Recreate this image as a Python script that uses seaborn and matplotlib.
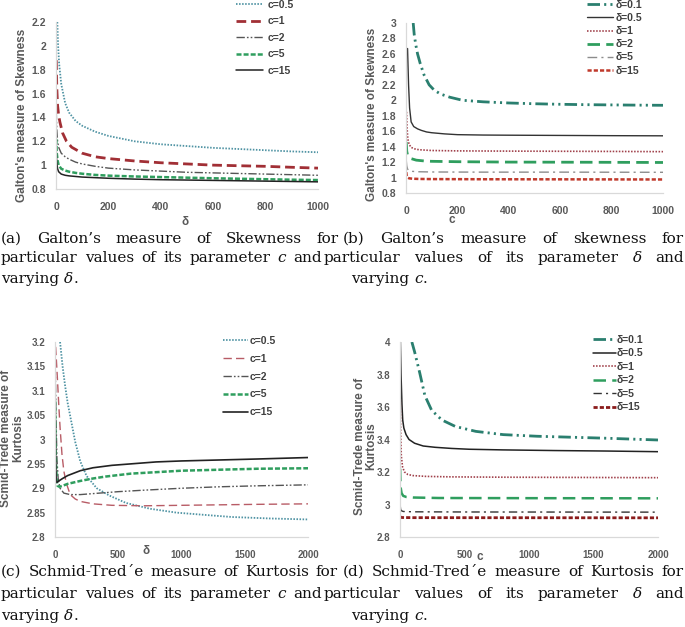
import matplotlib
matplotlib.use("Agg")
import matplotlib.pyplot as plt
import seaborn as sns
from matplotlib.ticker import FixedLocator, FuncFormatter

# ---------------- data ----------------
# (a) Galton's skewness vs delta for fixed c
a_c05_x = [5, 8, 12, 20, 35, 50, 75, 100, 150, 200, 300, 400, 500, 600, 700, 800, 900, 1000]
a_c05_y = [2.20, 2.00, 1.85, 1.68, 1.52, 1.44, 1.37, 1.33, 1.28, 1.245, 1.20, 1.175, 1.16, 1.145, 1.135, 1.125, 1.115, 1.108]
a_c1_x = [1, 3, 6, 10, 15, 25, 40, 60, 100, 150, 200, 300, 400, 500, 600, 700, 800, 900, 1000]
a_c1_y = [1.88, 1.65, 1.50, 1.42, 1.36, 1.27, 1.20, 1.15, 1.10, 1.07, 1.055, 1.035, 1.02, 1.01, 1.00, 0.995, 0.99, 0.982, 0.975]
a_c2_x = [1, 3, 6, 10, 20, 35, 50, 75, 100, 150, 200, 300, 400, 500, 600, 700, 800, 900, 1000]
a_c2_y = [1.45, 1.30, 1.20, 1.15, 1.10, 1.07, 1.05, 1.025, 1.01, 0.99, 0.975, 0.96, 0.95, 0.94, 0.935, 0.93, 0.925, 0.92, 0.915]
a_c5_x = [1, 3, 6, 10, 20, 35, 50, 75, 100, 150, 200, 300, 400, 500, 600, 700, 800, 900, 1000]
a_c5_y = [1.22, 1.10, 1.04, 1.00, 0.97, 0.955, 0.945, 0.935, 0.928, 0.918, 0.912, 0.905, 0.90, 0.895, 0.89, 0.886, 0.882, 0.878, 0.875]
a_c15_x = [1, 3, 6, 10, 20, 35, 50, 75, 100, 150, 200, 300, 400, 500, 600, 700, 800, 900, 1000]
a_c15_y = [1.12, 1.02, 0.97, 0.945, 0.925, 0.915, 0.91, 0.905, 0.90, 0.895, 0.89, 0.883, 0.878, 0.875, 0.872, 0.869, 0.866, 0.863, 0.86]

# (b) Galton's skewness vs c for fixed delta
b_d01_x = [28, 32, 38, 45, 55, 70, 90, 110, 135, 170, 220, 300, 400, 500, 600, 700, 800, 900, 1000]
b_d01_y = [3.0, 2.85, 2.72, 2.60, 2.48, 2.33, 2.20, 2.13, 2.08, 2.04, 2.00, 1.98, 1.965, 1.955, 1.948, 1.943, 1.94, 1.937, 1.935]
b_d05_x = [6, 10, 14, 20, 30, 45, 60, 80, 100, 150, 200, 300, 400, 600, 800, 1000]
b_d05_y = [2.67, 2.20, 1.90, 1.72, 1.66, 1.63, 1.61, 1.59, 1.58, 1.565, 1.555, 1.55, 1.548, 1.545, 1.542, 1.54]
b_d1_x = [2, 4, 7, 12, 20, 35, 50, 100, 200, 400, 600, 800, 1000]
b_d1_y = [1.85, 1.65, 1.50, 1.43, 1.39, 1.37, 1.36, 1.35, 1.345, 1.342, 1.34, 1.338, 1.335]
b_d2_x = [1, 3, 6, 12, 20, 40, 70, 100, 200, 400, 700, 1000]
b_d2_y = [1.46, 1.34, 1.29, 1.26, 1.245, 1.225, 1.215, 1.21, 1.205, 1.20, 1.198, 1.195]
b_d5_x = [1, 3, 6, 12, 25, 50, 100, 300, 600, 1000]
b_d5_y = [1.22, 1.15, 1.11, 1.09, 1.08, 1.075, 1.072, 1.07, 1.07, 1.068]
b_d15_x = [1, 3, 6, 12, 25, 50, 100, 300, 600, 1000]
b_d15_y = [1.07, 1.02, 1.00, 0.99, 0.985, 0.982, 0.98, 0.978, 0.977, 0.975]

# (c) Schmid-Trede kurtosis vs delta for fixed c
c_c05_x = [40, 60, 80, 100, 130, 160, 200, 250, 330, 430, 560, 750, 960, 1200, 1400, 1700, 2000]
c_c05_y = [3.2, 3.15, 3.11, 3.075, 3.035, 2.995, 2.955, 2.925, 2.90, 2.885, 2.87, 2.858, 2.85, 2.845, 2.841, 2.838, 2.836]
c_c1_x = [5, 18, 30, 40, 55, 70, 90, 120, 160, 200, 300, 450, 700, 1000, 1300, 1600, 2000]
c_c1_y = [3.19, 3.13, 3.07, 3.025, 2.97, 2.935, 2.91, 2.887, 2.878, 2.873, 2.868, 2.865, 2.864, 2.865, 2.866, 2.867, 2.868]
c_c2_x = [2, 8, 15, 25, 40, 70, 120, 200, 300, 500, 700, 1000, 1300, 1600, 2000]
c_c2_y = [3.15, 3.05, 2.96, 2.92, 2.90, 2.89, 2.887, 2.887, 2.889, 2.893, 2.896, 2.90, 2.903, 2.905, 2.907]
c_c5_x = [1, 4, 8, 14, 20, 35, 60, 100, 150, 200, 300, 400, 600, 800, 1000, 1300, 1600, 2000]
c_c5_y = [3.08, 3.00, 2.95, 2.915, 2.905, 2.903, 2.905, 2.909, 2.912, 2.915, 2.92, 2.924, 2.93, 2.933, 2.936, 2.938, 2.94, 2.941]
c_c15_x = [1, 5, 10, 15, 30, 60, 100, 150, 200, 300, 450, 600, 800, 1000, 1300, 1600, 2000]
c_c15_y = [3.05, 2.96, 2.915, 2.912, 2.915, 2.92, 2.926, 2.931, 2.936, 2.942, 2.947, 2.95, 2.954, 2.956, 2.958, 2.96, 2.963]

# (d) Schmid-Trede kurtosis vs c for fixed delta
d_d01_x = [92, 113, 153, 193, 245, 325, 430, 588, 800, 1063, 1327, 1591, 2000]
d_d01_y = [4.0, 3.94, 3.81, 3.67, 3.58, 3.52, 3.48, 3.45, 3.43, 3.42, 3.414, 3.408, 3.397]
d_d05_x = [3, 8, 15, 21, 30, 47, 70, 113, 180, 272, 400, 536, 800, 1200, 1600, 2000]
d_d05_y = [4.0, 3.8, 3.62, 3.52, 3.47, 3.43, 3.40, 3.377, 3.36, 3.352, 3.345, 3.34, 3.336, 3.332, 3.329, 3.325]
d_d1_x = [2, 5, 10, 20, 35, 60, 100, 200, 400, 800, 1200, 2000]
d_d1_y = [3.65, 3.45, 3.30, 3.23, 3.20, 3.185, 3.178, 3.173, 3.17, 3.168, 3.167, 3.165]
d_d2_x = [1, 3, 6, 12, 25, 50, 100, 300, 1000, 2000]
d_d2_y = [3.22, 3.15, 3.10, 3.07, 3.053, 3.046, 3.043, 3.04, 3.039, 3.038]
d_d5_x = [2, 5, 10, 25, 100, 500, 2000]
d_d5_y = [2.99, 2.97, 2.962, 2.957, 2.955, 2.954, 2.953]
d_d15_x = [1, 10, 100, 2000]
d_d15_y = [2.925, 2.92, 2.919, 2.918]

# legend labels
a_labels = ["c=0.5", "c=1", "c=2", "c=5", "c=15"]
b_labels = ["δ=0.1", "δ=0.5", "δ=1", "δ=2", "δ=5", "δ=15"]
c_labels = ["c=0.5", "c=1", "c=2", "c=5", "c=15"]
d_labels = ["δ=0.1", "δ=0.5", "δ=1", "δ=2", "δ=5", "δ=15"]

# tick values
a_xticks = [0, 200, 400, 600, 800, 1000]
a_yticks = [0.8, 1, 1.2, 1.4, 1.6, 1.8, 2, 2.2]
b_xticks = [0, 200, 400, 600, 800, 1000]
b_yticks = [0.8, 1, 1.2, 1.4, 1.6, 1.8, 2, 2.2, 2.4, 2.6, 2.8, 3]
c_xticks = [0, 500, 1000, 1500, 2000]
c_yticks = [2.8, 2.85, 2.9, 2.95, 3, 3.05, 3.1, 3.15, 3.2]
d_xticks = [0, 500, 1000, 1500, 2000]
d_yticks = [2.8, 3, 3.2, 3.4, 3.6, 3.8, 4]

# captions (words wrapped in * are italic)
cap_a = ["(a) Galton’s measure of Skewness for",
         "particular values of its parameter *c* and",
         "varying *δ*."]
cap_b = ["(b) Galton’s measure of skewness for",
         "particular values of its parameter *δ* and",
         "varying *c*."]
cap_c = ["(c) Schmid-Tred´e measure of Kurtosis for",
         "particular values of its parameter *c* and",
         "varying *δ*."]
cap_d = ["(d) Schmid-Tred´e measure of Kurtosis for",
         "particular values of its parameter *δ* and",
         "varying *c*."]

# ---------------- style ----------------
sns.set_theme(style="white")
plt.rcParams["font.family"] = ["Liberation Sans", "DejaVu Sans"]
plt.rcParams["lines.scale_dashes"] = False

W, H = 685, 627
fig = plt.figure(figsize=(W / 100, H / 100), dpi=100)
fig.patch.set_facecolor("white")

GRAY = "#595959"
TEAL_DOT = "#4f93a3"
DARK_RED = "#a12f35"
GREEN = "#2f9e5e"
TEAL_DD = "#2a7f6f"


def make_ax(l, r, t, b):
    return fig.add_axes([l / W, 1 - b / H, (r - l) / W, (b - t) / H])


def draw(ax, xs, ys, label, color, lw, dashes):
    sns.lineplot(x=xs, y=ys, ax=ax, color=color, linewidth=lw, label=label,
                 estimator=None, sort=False, errorbar=None)
    line = ax.lines[-1]
    if dashes is None:
        line.set_linestyle("-")
    else:
        line.set_dashes(dashes)


def style_ax(ax, xlim, ylim, xticks, yticks, tsize):
    ax.set_xlim(*xlim)
    ax.set_ylim(*ylim)
    ax.xaxis.set_major_locator(FixedLocator(xticks))
    ax.yaxis.set_major_locator(FixedLocator(yticks))
    fmt = FuncFormatter(lambda v, p: f"{v:g}")
    ax.xaxis.set_major_formatter(fmt)
    ax.yaxis.set_major_formatter(fmt)
    for s in ["top", "right"]:
        ax.spines[s].set_visible(False)
    for s in ["left", "bottom"]:
        ax.spines[s].set_color("#d9d9d9")
        ax.spines[s].set_linewidth(0.9)
    ax.tick_params(axis="x", length=0, pad=9, labelsize=tsize, labelcolor=GRAY)
    ax.tick_params(axis="y", length=0, pad=7, labelsize=tsize, labelcolor=GRAY)
    for t in ax.get_xticklabels() + ax.get_yticklabels():
        t.set_fontweight("bold")
    ax.set_facecolor("white")
    ax.grid(False)


def set_labels(ax, xl, xpos, yl, ypos, size=8.5):
    ax.set_xlabel(xl, fontsize=size, fontweight="bold", color=GRAY)
    ax.set_ylabel(yl, fontsize=size, fontweight="bold", color=GRAY, linespacing=0.95)
    ax.xaxis.set_label_coords(*xpos)
    ax.yaxis.set_label_coords(*ypos)
    ax.xaxis.label.set_va("center")
    ax.yaxis.label.set_va("center")


def legend(ax, x, y, hl, htp, ls):
    leg = ax.legend(loc="upper left", bbox_to_anchor=(x / W, 1 - y / H),
                    bbox_transform=fig.transFigure, frameon=False,
                    handlelength=hl, handletextpad=htp, labelspacing=ls,
                    borderpad=0, borderaxespad=0,
                    prop={"weight": "bold", "size": 7.5, "family": "Liberation Sans"})
    for t in leg.get_texts():
        t.set_color("#404040")


# ---------------- panel (a) ----------------
axa = make_ax(56, 318, 22, 189)
draw(axa, a_c05_x, a_c05_y, a_labels[0], TEAL_DOT, 1.3, (1.1, 1.1))
draw(axa, a_c1_x, a_c1_y, a_labels[1], DARK_RED, 2.0, (7, 3.5))
draw(axa, a_c2_x, a_c2_y, a_labels[2], "#555555", 1.0, (6, 1.5, 1.2, 1.5, 1.2, 1.5))
draw(axa, a_c5_x, a_c5_y, a_labels[3], GREEN, 1.8, (3.6, 1.5))
draw(axa, a_c15_x, a_c15_y, a_labels[4], "#222222", 1.1, None)
style_ax(axa, (0, 1000), (0.8, 2.2), a_xticks, a_yticks, 7.5)
set_labels(axa, "δ", (0.492, -0.198), "Galton's measure of Skewness", (-0.13, 0.443))
legend(axa, 236, 0, 2.6, 0.4, 0.62)

# ---------------- panel (b) ----------------
axb = make_ax(406, 663, 23, 193)
draw(axb, b_d01_x, b_d01_y, b_labels[0], TEAL_DD, 2.0, (9, 3, 1.5, 3, 1.5, 3))
draw(axb, b_d05_x, b_d05_y, b_labels[1], "#333333", 1.0, None)
draw(axb, b_d1_x, b_d1_y, b_labels[2], "#a0404a", 1.2, (1.1, 1.1))
draw(axb, b_d2_x, b_d2_y, b_labels[3], GREEN, 2.0, (9, 4.5))
draw(axb, b_d5_x, b_d5_y, b_labels[4], "#8c8c8c", 1.0, (7, 3, 1.5, 3))
draw(axb, b_d15_x, b_d15_y, b_labels[5], "#c0392b", 1.8, (3, 1.5))
style_ax(axb, (0, 1000), (0.8, 3.0), b_xticks, b_yticks, 7.5)
set_labels(axb, "c", (0.179, -0.16), "Galton's measure of Skewness", (-0.132, 0.465))
legend(axb, 587, 0, 2.5, 0.2, 0.3)

# ---------------- panel (c) ----------------
axc = make_ax(55, 308, 342, 537)
draw(axc, c_c05_x, c_c05_y, c_labels[0], TEAL_DOT, 1.3, (1.1, 1.1))
draw(axc, c_c1_x, c_c1_y, c_labels[1], "#b85c66", 1.0, (6, 3))
draw(axc, c_c2_x, c_c2_y, c_labels[2], "#555555", 1.0, (6, 1.5, 1.2, 1.5, 1.2, 1.5))
draw(axc, c_c5_x, c_c5_y, c_labels[3], GREEN, 1.8, (3.6, 1.5))
draw(axc, c_c15_x, c_c15_y, c_labels[4], "#222222", 1.2, None)
style_ax(axc, (0, 2000), (2.8, 3.2), c_xticks, c_yticks, 7)
set_labels(axc, "δ", (0.36, -0.072), "Scmid-Trede measure of\nKurtosis", (-0.17, 0.508))
legend(axc, 223, 336, 2.4, 0.2, 0.75)

# ---------------- panel (d) ----------------
axd = make_ax(400, 658, 342, 537)
draw(axd, d_d01_x, d_d01_y, d_labels[0], TEAL_DD, 2.0, (9, 3, 1.5, 3, 1.5, 3))
draw(axd, d_d05_x, d_d05_y, d_labels[1], "#222222", 1.1, None)
draw(axd, d_d1_x, d_d1_y, d_labels[2], "#a0404a", 1.2, (1.1, 1.1))
draw(axd, d_d2_x, d_d2_y, d_labels[3], GREEN, 1.8, (9, 4.5))
draw(axd, d_d5_x, d_d5_y, d_labels[4], "#333333", 1.0, (6, 3, 1.5, 3))
draw(axd, d_d15_x, d_d15_y, d_labels[5], "#8b1c1c", 2.0, (3, 1.5))
style_ax(axd, (0, 2000), (2.8, 4.0), d_xticks, d_yticks, 7)
set_labels(axd, "c", (0.31, -0.103), "Scmid-Trede measure of\nKurtosis", (-0.132, 0.467))
legend(axd, 593, 335, 2.2, 0.1, 0.33)

# ---------------- captions (justified) ----------------
CAP_FONT = ["DejaVu Serif"]
CAP_FS = 11
renderer = fig.canvas.get_renderer()
SPACE = CAP_FS * 100 / 72 * 0.32


def parse(line):
    words = []
    for w in line.split(" "):
        parts = w.split("*")
        segs = [(p, i % 2 == 1) for i, p in enumerate(parts) if p]
        words.append(segs)
    return words


def place_line(line, x0, x1, base, justify):
    words = parse(line)
    objs, widths = [], []
    for segs in words:
        row, tot = [], 0.0
        for txt, it in segs:
            t = fig.text(0, 0, txt, fontsize=CAP_FS, family=CAP_FONT,
                         style="italic" if it else "normal", va="baseline",
                         ha="left", color="#111111")
            w = t.get_window_extent(renderer).width
            row.append((t, w))
            tot += w
        objs.append(row)
        widths.append(tot)
    if justify and len(words) > 1:
        gap = max(SPACE * 0.8, (x1 - x0 - sum(widths)) / (len(words) - 1))
    else:
        gap = SPACE
    x = x0
    for row, tot in zip(objs, widths):
        xx = x
        for t, w in row:
            t.set_position((xx / W, 1 - base / H))
            xx += w
        x += tot + gap


def caption(lines, x0s, x1s, bases):
    for i, ln in enumerate(lines):
        place_line(ln, x0s[i], x1s[i], bases[i], i < 2)


caption(cap_a, [1, 1, 1], [339, 322, 0], [243, 262, 283])
caption(cap_b, [343, 324, 351], [684, 684, 0], [243, 262, 283])
caption(cap_c, [1, 1, 1], [338, 322, 0], [576, 598, 620])
caption(cap_d, [343, 324, 351], [684, 684, 0], [576, 598, 620])

fig.savefig("out.png", dpi=100, facecolor="white")
